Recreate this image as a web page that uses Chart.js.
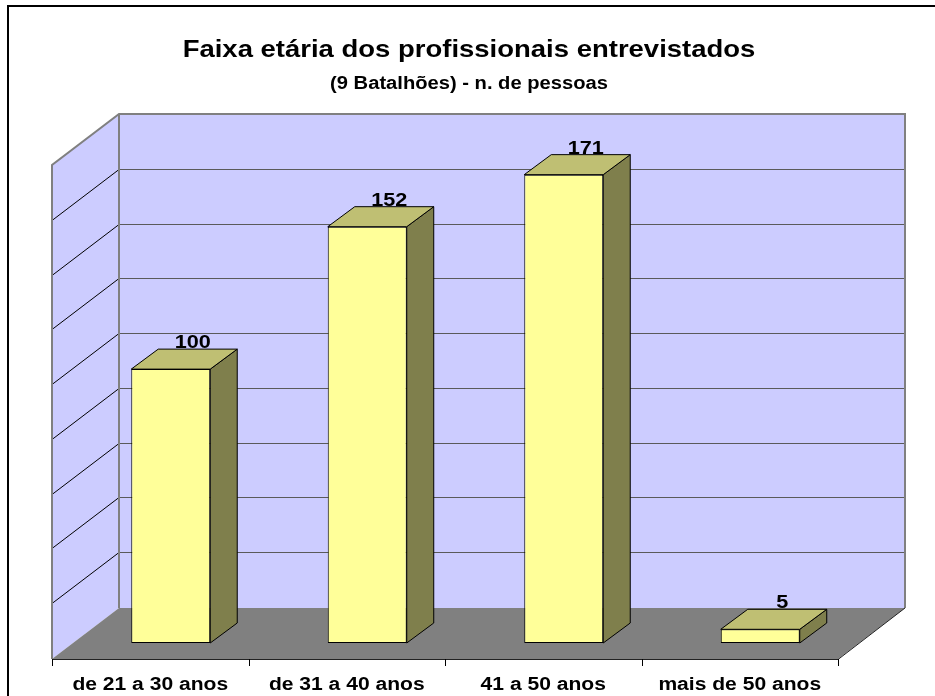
<!DOCTYPE html>
<html>
<head>
<meta charset="utf-8">
<script src="https://cdn.jsdelivr.net/npm/chart.js@4/dist/chart.umd.min.js"></script>
<style>
  html, body { margin: 0; padding: 0; background: #fff; }
  canvas { display: block; }
</style>
</head>
<body>
<canvas id="faixa-chart" width="935" height="696"></canvas>
<script>
// dados do grafico
const faixas = ['de 21 a 30 anos', 'de 31 a 40 anos', '41 a 50 anos', 'mais de 50 anos'];
const pessoas = [100, 152, 171, 5];
const escalaMax = 180;
const escalaPasso = 20;
const tituloLinhas = ['Faixa etária dos profissionais entrevistados', '(9 Batalhões) - n. de pessoas'];

// profundidade 3D (em px, relativo ao plano frontal das barras)
const WALL_DX = 46.5, WALL_DY = 36;
const FRONT_DX = -20.5, FRONT_DY = 16;
const BAR_DX = 27, BAR_DY = 20;

const FONT = '"Liberation Sans", Arial, sans-serif';

const textoLargo = (ctx, txt, x, y, size, sx) => {
  ctx.save();
  ctx.font = 'bold ' + size + 'px ' + FONT;
  ctx.textAlign = 'center';
  ctx.textBaseline = 'alphabetic';
  ctx.fillStyle = '#000';
  ctx.translate(x, y);
  ctx.scale(sx, 1);
  ctx.fillText(txt, 0, 0);
  ctx.restore();
};

const caixa3d = {
  id: 'caixa3d',
  beforeDatasetsDraw(chart) {
    const { ctx, chartArea: a, scales: { x, y } } = chart;
    const y0 = y.getPixelForValue(0);
    const yTop = y.getPixelForValue(escalaMax);
    const bl = a.left + WALL_DX, br = a.right + WALL_DX;
    const bTop = yTop - WALL_DY, bBot = y0 - WALL_DY + 1;
    const fl = a.left + FRONT_DX, fr = a.right + FRONT_DX;
    const fBot = y0 + FRONT_DY;
    const ddx = WALL_DX - FRONT_DX, ddy = fBot - bBot;

    ctx.save();
    // moldura externa
    ctx.strokeStyle = '#000';
    ctx.lineWidth = 2;
    ctx.strokeRect(8, 6, 960, 720);

    // parede do fundo
    ctx.fillStyle = '#CCCCFF';
    ctx.fillRect(bl, bTop, br - bl, bBot - bTop);
    // parede lateral
    ctx.beginPath();
    ctx.moveTo(bl, bTop);
    ctx.lineTo(bl, bBot);
    ctx.lineTo(fl, fBot);
    ctx.lineTo(fl, bTop + ddy);
    ctx.closePath();
    ctx.fill();

    // linhas de grade
    ctx.lineWidth = 1;
    for (let v = escalaPasso; v <= escalaMax; v += escalaPasso) {
      const gy = Math.round(y.getPixelForValue(v) - WALL_DY) + 0.5;
      ctx.strokeStyle = '#5a5a5a';
      ctx.beginPath();
      ctx.moveTo(bl, gy);
      ctx.lineTo(br, gy);
      ctx.stroke();
      if (v < escalaMax) {
        ctx.strokeStyle = '#000';
        ctx.beginPath();
        ctx.moveTo(bl, gy);
        ctx.lineTo(fl, gy + ddy);
        ctx.stroke();
      }
    }

    // chao
    ctx.fillStyle = '#808080';
    ctx.beginPath();
    ctx.moveTo(bl, bBot);
    ctx.lineTo(br, bBot);
    ctx.lineTo(fr, fBot);
    ctx.lineTo(fl, fBot);
    ctx.closePath();
    ctx.fill();

    // contornos das paredes
    ctx.strokeStyle = '#808080';
    ctx.lineWidth = 2;
    ctx.beginPath();
    ctx.moveTo(fl, fBot);
    ctx.lineTo(fl, bTop + ddy);
    ctx.lineTo(bl, bTop);
    ctx.lineTo(br, bTop);
    ctx.lineTo(br, bBot);
    ctx.moveTo(bl, bTop);
    ctx.lineTo(bl, bBot);
    ctx.stroke();

    ctx.strokeStyle = '#222';
    ctx.lineWidth = 1;
    ctx.beginPath();
    ctx.moveTo(fl, fBot + 0.5);
    ctx.lineTo(fr, fBot + 0.5);
    ctx.lineTo(br, bBot);
    ctx.stroke();

    // marcas do eixo
    ctx.strokeStyle = '#000';
    ctx.beginPath();
    const passo = (fr - fl) / faixas.length;
    for (let i = 0; i <= faixas.length; i++) {
      const tx = Math.round(fl + i * passo) + 0.5;
      ctx.moveTo(tx, fBot);
      ctx.lineTo(tx, fBot + 7);
    }
    ctx.stroke();
    ctx.restore();
  },
  afterDatasetsDraw(chart) {
    const { ctx, scales: { x } } = chart;
    const meta = chart.getDatasetMeta(0);
    ctx.save();
    ctx.strokeStyle = '#000';
    ctx.lineWidth = 1;
    ctx.lineJoin = 'round';
    meta.data.forEach((bar, i) => {
      const { x: cx, y: top, base, width } = bar.getProps(['x', 'y', 'base', 'width'], true);
      const l = cx - width / 2, r = cx + width / 2;
      // lado
      ctx.fillStyle = '#7F7F4C';
      ctx.beginPath();
      ctx.moveTo(r, top);
      ctx.lineTo(r + BAR_DX, top - BAR_DY);
      ctx.lineTo(r + BAR_DX, base - BAR_DY);
      ctx.lineTo(r, base);
      ctx.closePath();
      ctx.fill();
      ctx.stroke();
      // topo
      ctx.fillStyle = '#BFBF73';
      ctx.beginPath();
      ctx.moveTo(l, top);
      ctx.lineTo(l + BAR_DX, top - BAR_DY);
      ctx.lineTo(r + BAR_DX, top - BAR_DY);
      ctx.lineTo(r, top);
      ctx.closePath();
      ctx.fill();
      ctx.stroke();
      // rotulo de valor
      textoLargo(ctx, String(pessoas[i]), cx + 22, top - BAR_DY - 1, 19, 1.14);
    });

    // rotulos das categorias
    const y0 = chart.scales.y.getPixelForValue(0);
    faixas.forEach((f, i) => {
      textoLargo(ctx, f, x.getPixelForValue(i) + FRONT_DX, y0 + FRONT_DY + 31, 18, 1.17);
    });

    // titulo
    textoLargo(ctx, tituloLinhas[0], 469, 57, 24, 1.145);
    textoLargo(ctx, tituloLinhas[1], 469, 89, 18, 1.12);
    ctx.restore();
  }
};

const fundoBranco = {
  id: 'fundoBranco',
  beforeDraw(chart) {
    const { ctx, width, height } = chart;
    ctx.save();
    ctx.fillStyle = '#fff';
    ctx.fillRect(0, 0, width, height);
    ctx.restore();
  }
};

const ctx = document.getElementById('faixa-chart');
const chart = new Chart(ctx, {
  type: 'bar',
  data: {
    labels: faixas,
    datasets: [
      {
        label: 'pessoas',
        data: pessoas,
        backgroundColor: '#FFFF99',
        borderColor: '#000',
        borderWidth: 1,
        borderSkipped: false,
        categoryPercentage: 1,
        barPercentage: 0.402,
      },
    ],
  },
  options: {
    responsive: false,
    animation: false,
    devicePixelRatio: 1,
    layout: {
      padding: { top: 150, bottom: 53, left: 72.5, right: 76.5 },
    },
    scales: {
      x: { display: false },
      y: { display: false, min: 0, max: escalaMax, ticks: { stepSize: escalaPasso } },
    },
    plugins: {
      legend: { display: false },
      tooltip: { enabled: false },
    },
  },
  plugins: [fundoBranco, caixa3d],
});
</script>
</body>
</html>
